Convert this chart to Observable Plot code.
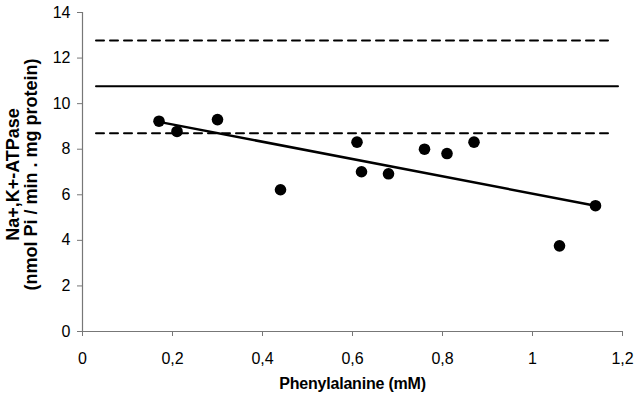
<!DOCTYPE html>
<html>
<head>
<meta charset="utf-8">
<script src="https://cdn.jsdelivr.net/npm/d3@7"></script>
<script src="https://cdn.jsdelivr.net/npm/@observablehq/plot@0.6"></script>
<style>
  html, body { margin: 0; padding: 0; background: #fff; }
  #chart svg { display: block; }
</style>
</head>
<body>
<div id="chart"></div>
<script>
// Data
const phenylalanine = [0.17, 0.21, 0.30, 0.44, 0.61, 0.62, 0.68, 0.76, 0.81, 0.87, 1.06, 1.14];
const atpase        = [9.23, 8.78, 9.30, 6.22, 8.31, 7.01, 6.92, 8.00, 7.81, 8.31, 3.76, 5.52];

// Regression line endpoints
const trendX = [0.17, 1.14];
const trendY = [9.20, 5.52];

// Control mean and ± limits (horizontal reference lines)
const meanLevel = 10.76;
const upperLevel = 12.77;
const lowerLevel = 8.70;
const meanSpan = [0.03, 1.19];
const limitSpan = [0.03, 1.175];

const xTicks = [0, 0.2, 0.4, 0.6, 0.8, 1, 1.2];
const yTicks = [0, 2, 4, 6, 8, 10, 12, 14];

const xLabel = "Phenylalanine (mM)";
const yLabel = "Na+,K+-ATPase\n(nmol Pi / min . mg protein)";

const points = phenylalanine.map((x, i) => ({x, y: atpase[i]}));
const trend = trendX.map((x, i) => ({x, y: trendY[i]}));
const meanLine = meanSpan.map(x => ({x, y: meanLevel}));
const upperLine = limitSpan.map(x => ({x, y: upperLevel}));
const lowerLine = limitSpan.map(x => ({x, y: lowerLevel}));

const fmt = d => String(d).replace(".", ",");

const chart = Plot.plot({
  width: 638,
  height: 404,
  marginLeft: 82,
  marginRight: 16,
  marginTop: 12,
  marginBottom: 73,
  style: {fontFamily: "'Liberation Sans', Arial, sans-serif", color: "#000", background: "#fff"},
  x: {domain: [0, 1.2]},
  y: {domain: [0, 14]},
  marks: [
    Plot.axisX({ticks: xTicks, tickFormat: fmt, tickSize: 5, tickPadding: 16, label: null, stroke: "#777", fill: "#000"}),
    Plot.axisY({ticks: yTicks, tickFormat: fmt, tickSize: 5, tickPadding: 7, label: null, stroke: "#777", fill: "#000"}),
    Plot.ruleX([0], {stroke: "#777", strokeWidth: 1.2}),
    Plot.ruleY([0], {stroke: "#777", strokeWidth: 1.2}),
    Plot.line(upperLine, {x: "x", y: "y", stroke: "#000", strokeWidth: 2, strokeDasharray: "8,6"}),
    Plot.line(lowerLine, {x: "x", y: "y", stroke: "#000", strokeWidth: 2, strokeDasharray: "8,6"}),
    Plot.line(meanLine, {x: "x", y: "y", stroke: "#000", strokeWidth: 2}),
    Plot.line(trend, {x: "x", y: "y", stroke: "#000", strokeWidth: 2.5}),
    Plot.dot(points, {x: "x", y: "y", r: 5.8, fill: "#000", stroke: "none"}),
    Plot.text([xLabel], {text: d => d, frameAnchor: "bottom", dy: 57, fill: "#000"}),
    Plot.text([yLabel], {text: d => d, frameAnchor: "left", textAnchor: "middle", rotate: -90, dx: -60, dy: 2.5, lineHeight: 1, fill: "#000"})
  ]
});

// Font sizes applied as inline styles
const svg = d3.select(chart);
svg.selectAll('g[aria-label="x-axis tick label"] text, g[aria-label="y-axis tick label"] text')
  .style("font-size", "16px");
const textGroups = svg.selectAll('g[aria-label="text"]').nodes();
d3.select(textGroups[0]).selectAll("text").style("font-size", "16px").style("font-weight", "bold").style("letter-spacing", "-0.2px");
d3.select(textGroups[1]).selectAll("text").style("font-size", "18px").style("font-weight", "bold");

document.getElementById("chart").appendChild(chart);
</script>
</body>
</html>
